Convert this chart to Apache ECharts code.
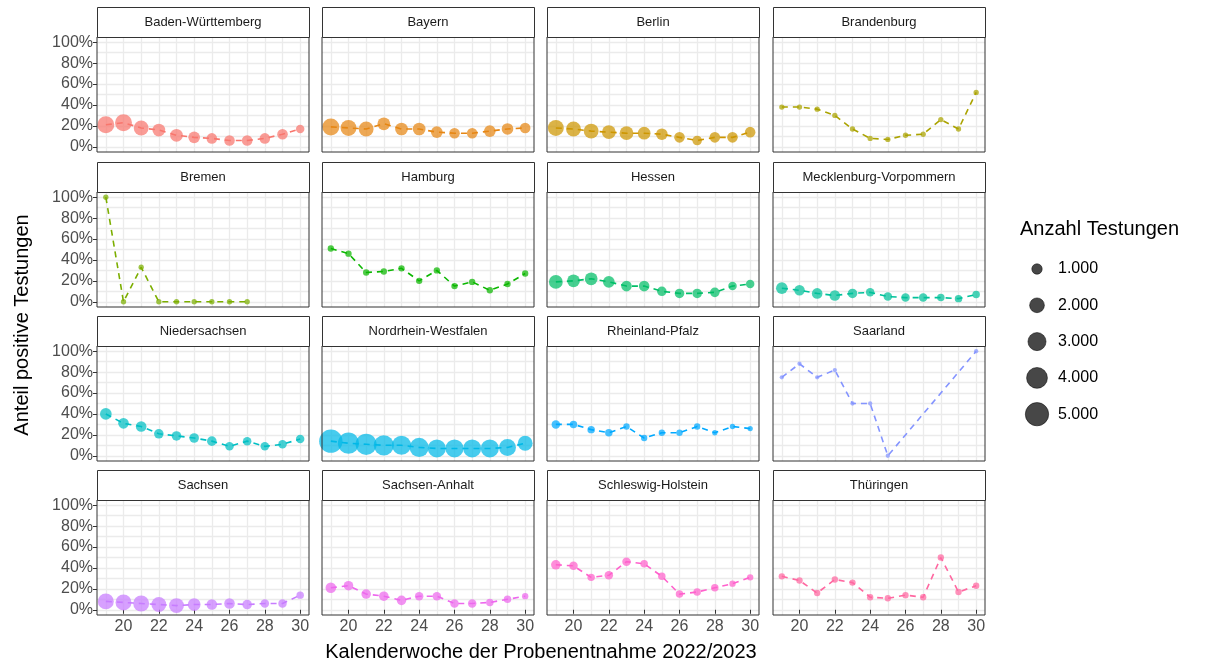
<!DOCTYPE html>
<html lang="de">
<head>
<meta charset="UTF-8">
<title>Anteil positive Testungen</title>
<script src="https://cdn.jsdelivr.net/npm/echarts@6/dist/echarts.min.js"></script>
<style>html,body{margin:0;padding:0;background:#fff}</style>
</head>
<body>
<div id="main" style="width:1210px;height:666px;"></div>
<script>
// Bundeslaender (Reihenfolge der Facetten)
var states = ['Baden-Württemberg', 'Bayern', 'Berlin', 'Brandenburg',
  'Bremen', 'Hamburg', 'Hessen', 'Mecklenburg-Vorpommern',
  'Niedersachsen', 'Nordrhein-Westfalen', 'Rheinland-Pfalz', 'Saarland',
  'Sachsen', 'Sachsen-Anhalt', 'Schleswig-Holstein', 'Thüringen'];
var colors = ['#F8766D', '#E68613', '#CD9600', '#ABA300', '#7CAE00', '#0CB702', '#00BE67', '#00C19A',
  '#00BFC4', '#00B8E7', '#00A9FF', '#8494FF', '#C77CFF', '#ED68ED', '#FF61CC', '#FF68A1'];

var weeks = [19, 20, 21, 22, 23, 24, 25, 26, 27, 28, 29, 30];
var xTicks = [20, 22, 24, 26, 28, 30];
var yTicks = [0, 20, 40, 60, 80, 100];
var yGrid = [0, 10, 20, 30, 40, 50, 60, 70, 80, 90, 100];
// Anteil positiv in %
var pct = [
  [21, 23, 18, 16, 11, 9, 8, 6, 6, 8, 12, 17],
  [19, 18, 17, 22, 17, 17, 14, 13, 13, 15, 17, 18],
  [18, 17, 15, 14, 13, 13, 12, 9, 6, 9, 9, 14],
  [38, 38, 36, 30, 17, 8, 7, 11, 12, 26, 17, 52],
  [100, 0, 33, 0, 0, 0, 0, 0, 0],
  [51, 46, 28, 29, 32, 20, 30, 15, 19, 11, 17, 27],
  [19, 20, 22, 19, 15, 15, 10, 8, 8, 9, 15, 17],
  [13, 11, 8, 6, 8, 9, 5, 4, 4, 4, 3, 7],
  [40, 31, 28, 21, 19, 17, 14, 9, 14, 9, 11, 16],
  [14, 12, 11, 10, 10, 8, 7, 7, 7, 7, 8, 12],
  [30, 30, 25, 22, 28, 17, 22, 22, 28, 22, 28, 26],
  [75, 88, 75, 82, 50, 50, 0, null, null, null, null, 100],
  [8, 7, 6, 5, 4, 5, 5, 6, 5, 6, 6, 14],
  [21, 23, 15, 13, 9, 13, 13, 6, 6, 7, 10, 13],
  [43, 42, 31, 33, 46, 44, 32, 15, 17, 21, 25, 31],
  [32, 28, 16, 29, 26, 12, 11, 14, 12, 50, 17, 23]
];
// Anzahl Testungen
var counts = [
  [2650, 2650, 2030, 1490, 1490, 1250, 1030, 1030, 1030, 1030, 1030, 660],
  [2650, 2330, 2030, 1490, 1490, 1490, 1250, 1030, 1030, 1250, 1250, 1030],
  [2330, 2030, 2030, 1750, 1750, 1490, 1250, 1030, 840, 1030, 1030, 1030],
  [260, 260, 260, 260, 260, 260, 260, 260, 260, 260, 260, 260],
  [260, 260, 260, 260, 260, 260, 260, 260, 260],
  [370, 370, 370, 370, 370, 370, 370, 370, 370, 370, 370, 370],
  [1750, 1490, 1490, 1250, 1030, 1030, 840, 840, 840, 840, 660, 660],
  [1250, 1030, 1030, 1030, 840, 660, 660, 660, 660, 510, 510, 510],
  [1250, 1030, 1030, 840, 840, 840, 840, 660, 660, 660, 660, 660],
  [5000, 4130, 4130, 3730, 3350, 3350, 2990, 2990, 2990, 2990, 2650, 2030],
  [660, 510, 510, 510, 370, 370, 370, 370, 370, 260, 260, 260],
  [170, 170, 170, 170, 170, 170, 170, null, null, null, null, 170],
  [2330, 2330, 2330, 2030, 2030, 1490, 1030, 1030, 840, 660, 660, 510],
  [1030, 840, 840, 840, 840, 660, 660, 660, 660, 510, 510, 370],
  [840, 660, 510, 660, 660, 510, 510, 510, 510, 510, 370, 370],
  [370, 370, 370, 370, 370, 370, 370, 370, 370, 370, 370, 370]
];
var legendCounts = [1000, 2000, 3000, 4000, 5000];
var legendLabels = ['1.000', '2.000', '3.000', '4.000', '5.000'];

function sizeOf(n) { return 0.33 * Math.sqrt(n); }

var colLeft = [97, 322, 547, 773], panelW = 212;
var rowTop = [37, 192, 346, 500], panelH = 115, stripH = 30;
var tickColor = '#4d4d4d', grid = [], xAxis = [], yAxis = [], series = [], graphic = [];

// grid lines as markLines (every week / every 10 %)
var gridMarks = weeks.map(function (w) { return { xAxis: w }; })
  .concat(yGrid.map(function (v) { return { yAxis: v }; }));

states.forEach(function (name, i) {
  var r = Math.floor(i / 4), c = i % 4;
  grid.push({ left: colLeft[c], top: rowTop[r], width: panelW, height: panelH, show: true,
    borderColor: '#333', borderWidth: 1, backgroundColor: 'transparent', z: 3 });
  xAxis.push({ gridIndex: i, type: 'value', min: 18.5, max: 30.5,
    axisLine: { show: false }, splitLine: { show: false },
    axisTick: { show: r === 3, customValues: xTicks, length: 4, lineStyle: { color: '#333' } },
    axisLabel: { show: r === 3, customValues: xTicks, color: tickColor, fontSize: 16, margin: 4 } });
  yAxis.push({ gridIndex: i, type: 'value', min: -5, max: 105,
    axisLine: { show: false }, splitLine: { show: false },
    axisTick: { show: c === 0, customValues: yTicks, length: 4, lineStyle: { color: '#333' } },
    axisLabel: { show: c === 0, customValues: yTicks, color: tickColor, fontSize: 16, margin: 4,
      formatter: function (v) { return v + '%'; } } });
  var pts = [];
  pct[i].forEach(function (v, k) { if (v !== null) pts.push([weeks[k], v, counts[i][k]]); });
  series.push({ type: 'line', xAxisIndex: i, yAxisIndex: i, data: pts, showSymbol: false, clip: false,
    lineStyle: { color: colors[i], width: 1.6, type: [6, 5] }, silent: true,
    markLine: { silent: true, symbol: 'none', label: { show: false }, animation: false, z: 0,
      lineStyle: { color: '#ebebeb', width: 1.3, type: 'solid' }, data: gridMarks } });
  series.push({ type: 'scatter', xAxisIndex: i, yAxisIndex: i, data: pts, clip: false,
    symbolSize: function (d) { return sizeOf(d[2]); },
    itemStyle: { color: colors[i], opacity: 0.72 } });
  graphic.push({ type: 'rect', z: 50, left: colLeft[c], top: rowTop[r] - stripH,
    shape: { width: panelW, height: stripH }, style: { fill: '#fff', stroke: '#333', lineWidth: 1 } });
  graphic.push({ type: 'text', z: 51, x: colLeft[c] + panelW / 2, y: rowTop[r] - stripH / 2,
    style: { text: name, fill: '#1a1a1a', fontSize: 13, align: 'center', verticalAlign: 'middle',
      fontFamily: 'Liberation Sans, Arial' } });
});

graphic.push({ type: 'text', x: 22, y: 325, rotation: Math.PI / 2,
  style: { text: 'Anteil positive Testungen', fontSize: 20, fill: '#000', align: 'center', verticalAlign: 'middle',
    fontFamily: 'Liberation Sans, Arial' } });
graphic.push({ type: 'text', x: 541, y: 652,
  style: { text: 'Kalenderwoche der Probenentnahme 2022/2023', fontSize: 20, fill: '#000', align: 'center',
    verticalAlign: 'middle', fontFamily: 'Liberation Sans, Arial' } });
graphic.push({ type: 'text', x: 1020, y: 229,
  style: { text: 'Anzahl Testungen', fontSize: 20, fill: '#000', verticalAlign: 'middle',
    fontFamily: 'Liberation Sans, Arial' } });
legendCounts.forEach(function (n, k) {
  var y = 269 + k * 36.3;
  graphic.push({ type: 'circle', shape: { cx: 1037, cy: y, r: sizeOf(n) / 2 },
    style: { fill: 'rgba(0,0,0,0.72)', stroke: '#000', lineWidth: 0.5 } });
  graphic.push({ type: 'text', x: 1058, y: y,
    style: { text: legendLabels[k], fontSize: 16, fill: '#000', verticalAlign: 'middle',
      fontFamily: 'Liberation Sans, Arial' } });
});

var chart = echarts.init(document.getElementById('main'));
chart.setOption({
  animation: false,
  textStyle: { fontFamily: 'Liberation Sans, Arial' },
  grid: grid, xAxis: xAxis, yAxis: yAxis, series: series, graphic: graphic
});
</script>
</body>
</html>
